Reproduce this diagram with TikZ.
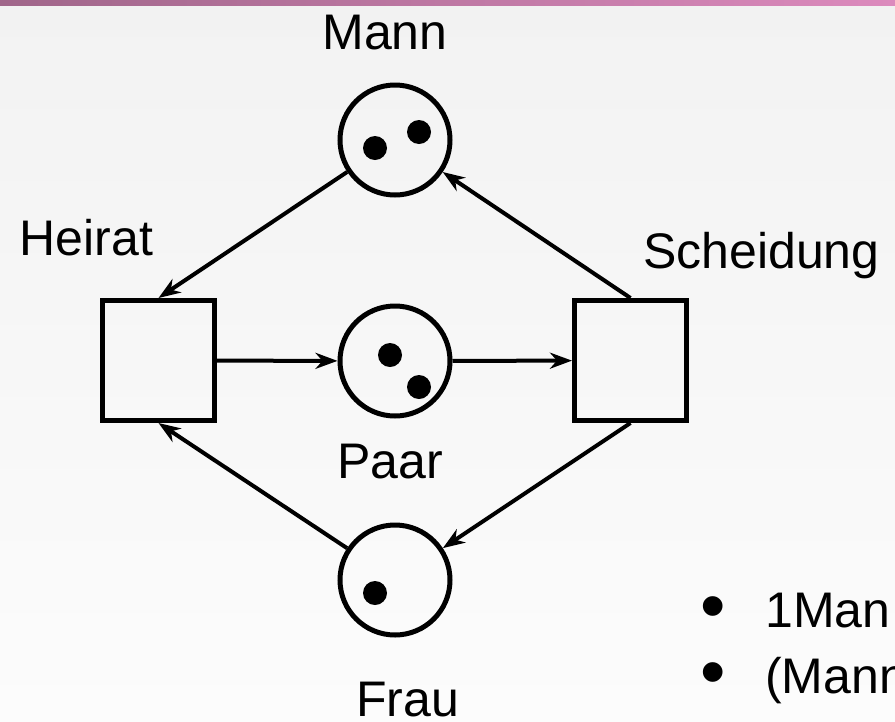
\documentclass[tikz,border=0pt]{standalone}
\usepackage{fontspec}
\setmainfont{Liberation Sans}
\usetikzlibrary{arrows.meta}

\definecolor{bgtop}{HTML}{F2F2F2}
\definecolor{bgbot}{HTML}{FCFCFC}
\definecolor{barleft}{HTML}{A0668A}
\definecolor{barright}{HTML}{DC8ABD}

\tikzset{
  place/.style={circle, draw, line width=5pt, minimum size=110pt, inner sep=0pt},
  trans/.style={rectangle, draw, line width=5pt, minimum width=112pt, minimum height=120pt, inner sep=0pt},
  token/.style={circle, fill, minimum size=24pt, inner sep=0pt},
  lbl/.style={inner sep=0pt, font=\fontsize{50pt}{60pt}\selectfont},
  arc/.style={line width=4pt, -{Stealth[length=22pt,width=16pt,inset=7pt]}}
}
\newcommand{\blt}{\makebox[65pt][l]{\raisebox{-3pt}{\scalebox{1.45}{•}}}}

\begin{document}
\begin{tikzpicture}[x=1pt,y=-1pt]
	\useasboundingbox (0,0) rectangle (895,721);
	\clip (0,0) rectangle (895,721);
	\shade[top color=bgtop, bottom color=bgbot] (0,0) rectangle (895,721);
	\shade[left color=barleft, right color=barright] (0,0) rectangle (895,5);

	\node at (395,140) [place] (mann) {};
	\node at (395,361) [place] (paar) {};
	\node at (395,580) [place] (frau) {};
	\node at (158.5,360.5) [trans] (heirat) {};
	\node at (630.5,360.5) [trans] (scheid) {};

	\node at (375,148) [token] (m1) {};
	\node at (419,132) [token] (m2) {};
	\node at (390,355) [token] (p1) {};
	\node at (419,387) [token] (p2) {};
	\node at (375,593) [token] (f1) {};

	\node at (385,49) [lbl, anchor=base] (mannlbl) {Mann};
	\node at (86.5,255) [lbl, anchor=base] (heiratlbl) {Heirat};
	\node at (643,268) [lbl, anchor=base west] (scheidlbl) {Scheidung};
	\node at (390,478) [lbl, anchor=base] (paarlbl) {Paar};
	\node at (407.5,716) [lbl, anchor=base] (fraulbl) {Frau};
	\node at (700,627) [lbl, anchor=base west] (b1) {\blt 1Man};
	\node at (700,693) [lbl, anchor=base west] (b2) {\blt (Mann};

	\draw [arc] (mann) -- (heirat.north);
	\draw [arc] (scheid.north) -- (mann);
	\draw [arc] (heirat) -- (paar);
	\draw [arc] (paar) -- (scheid);
	\draw [arc] (scheid.south) -- (frau);
	\draw [arc] (frau) -- (heirat.south);
\end{tikzpicture}
\end{document}
